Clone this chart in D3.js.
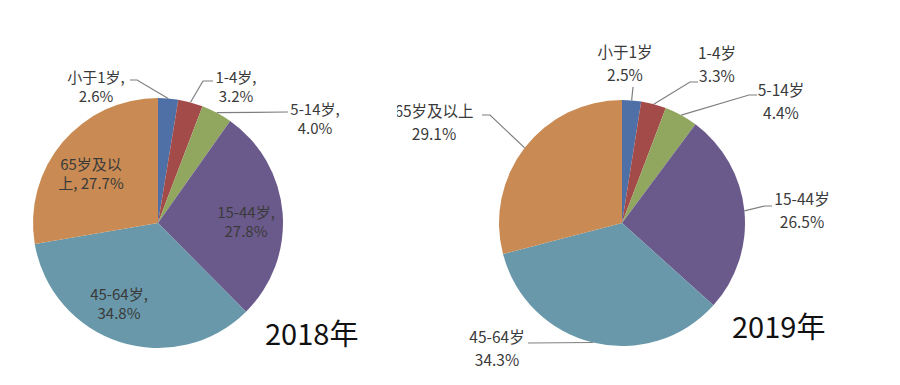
<!DOCTYPE html>
<html>
<head>
<meta charset="utf-8">
<script src="https://cdn.jsdelivr.net/npm/d3@7"></script>
<style>
  body { margin: 0; background: #fff; }
  svg text { font-family: "Noto Sans CJK SC", "Noto Sans", sans-serif; }
</style>
</head>
<body>
<div id="chart"></div>
<script>
// age groups, clockwise from 12 o'clock
var categories = ["小于1岁", "1-4岁", "5-14岁", "15-44岁", "45-64岁", "65岁及以上"];
var values2018 = [2.6, 3.2, 4.0, 27.8, 34.8, 27.7];
var values2019 = [2.5, 3.3, 4.4, 26.5, 34.3, 29.1];
var years = ["2018年", "2019年"];

var colors = ["#4e70a7", "#a24b48", "#91a75f", "#6a5a8b", "#6898aa", "#c98b53"];

// label layout per pie: text center x, first baseline y, line gap, leader path points (label side)
var layout2018 = {
  cx: 158, cy: 223, r: 125, comma: true, gap: 19, font: 15, year: [265, 345],
  labels: [
    { x: 96, y: 83, brk: 4, lead: [[130, 80], [137, 80]] },
    { x: 236, y: 83, brk: 4, lead: [[213, 81], [203, 81]] },
    { x: 315, y: 115, brk: 5, lead: [[288, 112]] },
    { x: 246, y: 218, brk: 6 },
    { x: 119, y: 300, brk: 6 },
    { x: 91, y: 170, brk: 5 }
  ]
};
var layout2019 = {
  cx: 622, cy: 223, r: 123, comma: false, gap: 23, font: 15.5, year: [732, 338], clipX: 397,
  labels: [
    { x: 625, y: 58, brk: 4, lead: [[633, 87]] },
    { x: 717, y: 59, brk: 4, lead: [[698, 82], [690, 82]] },
    { x: 781, y: 96, brk: 5, lead: [[757, 95], [749, 95]] },
    { x: 802, y: 205, brk: 6, lead: [[772, 206], [765, 206]] },
    { x: 497, y: 343, brk: 6, lead: [[528, 343]] },
    { x: 434, y: 117, brk: 6, lead: [[482, 115], [490, 115]] }
  ]
};

var svg = d3.select("#chart").append("svg")
  .attr("width", 900)
  .attr("height", 385);

svg.append("defs").append("clipPath").attr("id", "clipRight")
  .append("rect").attr("x", layout2019.clipX).attr("y", 0).attr("width", 900).attr("height", 385);

var pie = d3.pie().sort(null).value(function(d) { return d; });

function drawPie(values, lay, year, clip) {
  var g = svg.append("g");
  if (clip) g.attr("clip-path", "url(#" + clip + ")");

  var arcs = pie(values);
  var arc = d3.arc().innerRadius(0).outerRadius(lay.r);
  var edge = d3.arc().innerRadius(lay.r).outerRadius(lay.r);

  var pg = g.append("g").attr("transform", "translate(" + lay.cx + "," + lay.cy + ")");
  pg.selectAll("path")
    .data(arcs)
    .enter()
    .append("path")
    .attr("d", arc)
    .attr("fill", function(d, i) { return colors[i]; });

  // leader lines
  var line = d3.line();
  arcs.forEach(function(a, i) {
    var lb = lay.labels[i];
    if (!lb.lead) return;
    var c = edge.centroid(a);
    var pts = lb.lead.concat([[c[0] + lay.cx, c[1] + lay.cy]]);
    g.append("path")
      .attr("d", line(pts))
      .attr("fill", "none")
      .attr("stroke", "#7f7f7f")
      .attr("stroke-width", 1.2);
  });

  // labels
  arcs.forEach(function(a, i) {
    var lb = lay.labels[i];
    var cat = categories[i];
    var pct = values[i].toFixed(1) + "%";
    var l1 = cat.slice(0, lb.brk);
    var rest = cat.slice(lb.brk);
    var l2;
    if (lay.comma) {
      if (rest.length) l2 = rest + ", " + pct;
      else { l1 = l1 + ","; l2 = pct; }
    } else {
      l1 = cat; l2 = pct;
    }
    var t = g.append("text")
      .attr("text-anchor", "middle")
      .attr("font-size", lay.font + "px")
      .attr("fill", "#3a3a3a");
    t.append("tspan").attr("x", lb.x).attr("y", lb.y).text(l1);
    t.append("tspan").attr("x", lb.x).attr("y", lb.y + lay.gap).text(l2);
  });

  svg.append("text")
    .attr("x", lay.year[0])
    .attr("y", lay.year[1])
    .attr("font-size", "29px")
    .attr("fill", "#111")
    .text(year);
}

drawPie(values2018, layout2018, years[0]);
drawPie(values2019, layout2019, years[1], "clipRight");
</script>
</body>
</html>
